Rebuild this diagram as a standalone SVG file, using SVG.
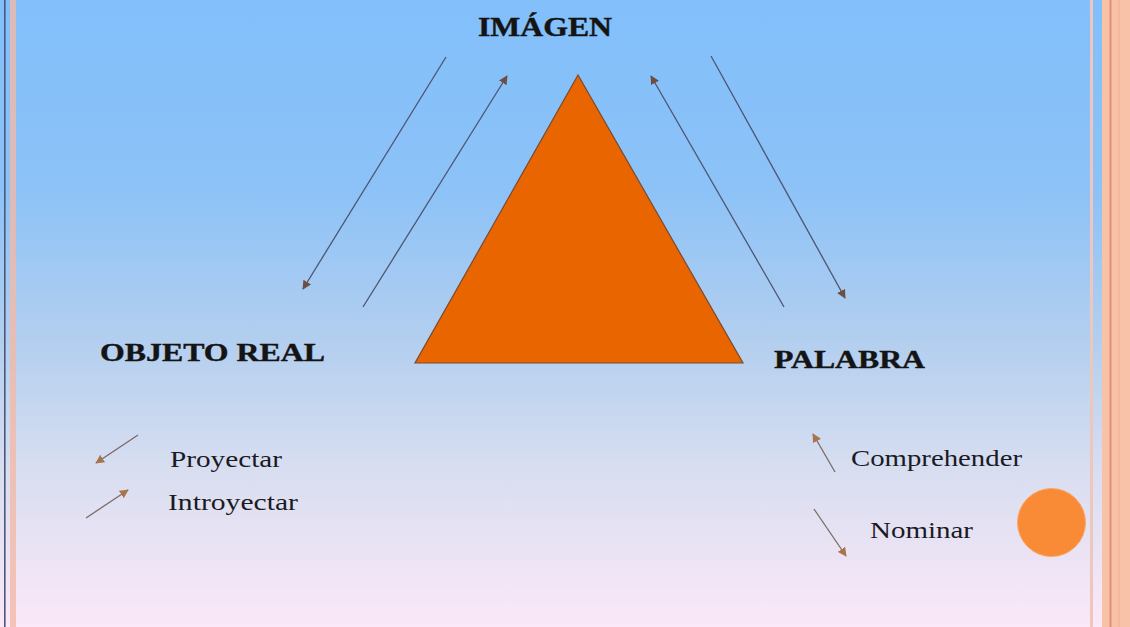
<svg xmlns="http://www.w3.org/2000/svg" width="1130" height="627" viewBox="0 0 1130 627">
  <defs>
    <linearGradient id="bg" x1="0" y1="0" x2="0" y2="1">
      <stop offset="0" stop-color="#82bffb"/>
      <stop offset="0.3" stop-color="#8cc2f7"/>
      <stop offset="0.55" stop-color="#b4cfef"/>
      <stop offset="0.75" stop-color="#d8def0"/>
      <stop offset="1" stop-color="#fbe8f8"/>
    </linearGradient>
    <marker id="ah" viewBox="0 0 10 10" refX="9" refY="5" markerWidth="9" markerHeight="9" markerUnits="userSpaceOnUse" orient="auto">
      <path d="M0,0 L10,5 L0,10 Z" fill="#6e4e40"/>
    </marker>
    <marker id="ahl" viewBox="0 0 10 10" refX="9" refY="5" markerWidth="9" markerHeight="9" markerUnits="userSpaceOnUse" orient="auto">
      <path d="M0,0 L10,5 L0,10 Z" fill="#a8744e"/>
    </marker>
    <style>
      .conn { stroke: #4e5472; stroke-width: 1.3; fill: none; marker-end: url(#ah); }
      .leg { stroke: #7a6a68; stroke-width: 1.3; fill: none; marker-end: url(#ahl); }
      .title { font-family: "Liberation Serif", "DejaVu Serif", serif; font-weight: bold; fill: #141414; stroke: #141414; stroke-width: 0.4; }
      .lbl { font-family: "Liberation Serif", "DejaVu Serif", serif; fill: #1a1a24; }
    </style>
  </defs>

  <rect x="0" y="0" width="1130" height="627" fill="url(#bg)"/>

  <!-- frame -->
  <g id="frame">
    <rect x="4" y="0" width="1.6" height="627" fill="#4c5878"/>
    <rect x="10" y="0" width="6" height="627" fill="#f2b9a8" opacity="0.8"/>
    <rect x="1090" y="0" width="3" height="627" fill="#efc6bc"/>
    <rect x="1102" y="0" width="28" height="627" fill="#f8c2a8"/>
    <rect x="1109.5" y="0" width="2" height="627" fill="#d99272"/>
    <rect x="1118" y="0" width="2" height="627" fill="#f3b89e"/>
  </g>

  <g id="triangle">
    <polygon points="578,75 415,363 743,363" fill="#e86500" stroke="#7a4a30" stroke-width="1.2"/>
  </g>

  <g id="connectors">
    <line class="conn" x1="446" y1="57" x2="303" y2="289"/>
    <line class="conn" x1="363" y1="307" x2="507" y2="76"/>
    <line class="conn" x1="784" y1="307" x2="651" y2="76"/>
    <line class="conn" x1="711" y1="56" x2="845" y2="298"/>
    <line class="leg" x1="138" y1="435" x2="96" y2="463"/>
    <line class="leg" x1="86" y1="518" x2="128" y2="490"/>
    <line class="leg" x1="835" y1="472" x2="813" y2="434"/>
    <line class="leg" x1="814" y1="509" x2="846" y2="556"/>
  </g>

  <g id="imagen">
    <text class="title" x="478" y="36" font-size="27" textLength="134" lengthAdjust="spacingAndGlyphs">IMÁGEN</text>
  </g>
  <g id="objeto-real">
    <text class="title" x="100" y="361" font-size="25" textLength="225" lengthAdjust="spacingAndGlyphs">OBJETO REAL</text>
  </g>
  <g id="palabra">
    <text class="title" x="774" y="368" font-size="25" textLength="151" lengthAdjust="spacingAndGlyphs">PALABRA</text>
  </g>

  <g id="legend">
    <text class="lbl" x="170" y="467" font-size="23" textLength="112" lengthAdjust="spacingAndGlyphs">Proyectar</text>
    <text class="lbl" x="168" y="510" font-size="23" textLength="130" lengthAdjust="spacingAndGlyphs">Introyectar</text>
    <text class="lbl" x="851" y="466" font-size="23" textLength="171" lengthAdjust="spacingAndGlyphs">Comprehender</text>
    <text class="lbl" x="870" y="538" font-size="23" textLength="103" lengthAdjust="spacingAndGlyphs">Nominar</text>
  </g>

  <g id="dot">
    <circle cx="1051.5" cy="522.5" r="34" fill="#f98a36" stroke="#fba866" stroke-width="1"/>
  </g>
</svg>
